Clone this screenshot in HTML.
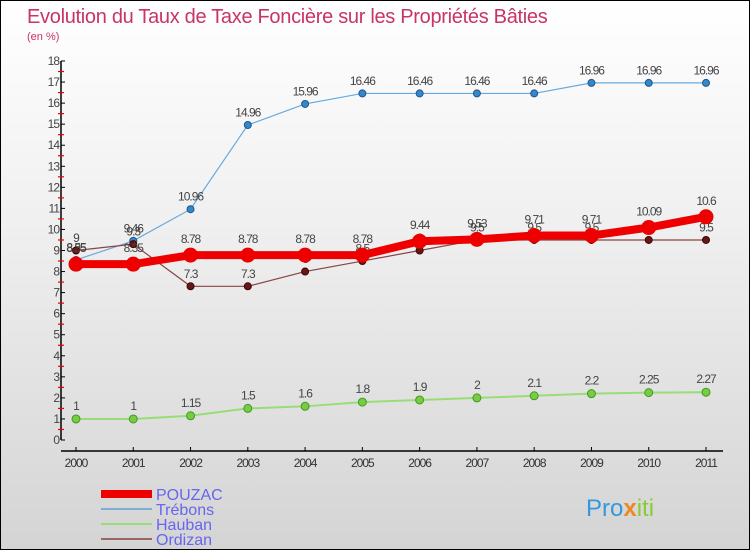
<!DOCTYPE html>
<html><head><meta charset="utf-8">
<style>
body{margin:0;}
#wrap{position:relative;width:748px;height:548px;border:1px solid #000;background:linear-gradient(#ffffff 0%,#f0f0f0 40%,#d4d4d4 100%);overflow:hidden;font-family:"Liberation Sans",sans-serif;}
svg text{font-family:"Liberation Sans",sans-serif;}
</style></head><body>
<div id="wrap">
<svg id="chart" width="748" height="548" xmlns="http://www.w3.org/2000/svg">
<text x="26" y="22" font-size="20" fill="#c8336a" letter-spacing="-0.3">Evolution du Taux de Taxe Foncière sur les Propriétés Bâties</text>
<text x="26" y="39" font-size="11" fill="#c8336a">(en %)</text>
<g id="axes"></g>
<g id="series"></g>
<g id="legend">
<rect x="100" y="489" width="51" height="8" fill="#ee0000"/>
<text x="155" y="499" font-size="16" fill="#6666ee">POUZAC</text>
<rect x="100" y="507" width="51" height="2" fill="#7aaed4"/>
<text x="155" y="514" font-size="16" fill="#6666ee">Trébons</text>
<rect x="100" y="522" width="51" height="2" fill="#99dd77"/>
<text x="155" y="529" font-size="16" fill="#6666ee">Hauban</text>
<rect x="100" y="537" width="51" height="2" fill="#996666"/>
<text x="155" y="544" font-size="16" fill="#6666ee">Ordizan</text>
</g>
<g>
<text x="585" y="515" font-size="24" fill="#3399dd">Pro<tspan fill="#ee8822" font-weight="bold">x</tspan><tspan fill="#88cc33">iti</tspan></text>
</g>
</svg>
</div>
<script>
const years = [2000,2001,2002,2003,2004,2005,2006,2007,2008,2009,2010,2011];
const pouzac = [8.35,8.35,8.78,8.78,8.78,8.78,9.44,9.53,9.71,9.71,10.09,10.6];
const trebons = [8.55,9.46,10.96,14.96,15.96,16.46,16.46,16.46,16.46,16.96,16.96,16.96];
const hauban = [1,1,1.15,1.5,1.6,1.8,1.9,2,2.1,2.2,2.25,2.27];
const ordizan = [9,9.3,7.3,7.3,8,8.5,9,9.5,9.5,9.5,9.5,9.5];
const yTicks = [0,1,2,3,4,5,6,7,8,9,10,11,12,13,14,15,16,17,18];

const NS='http://www.w3.org/2000/svg';
function xS(i){return 75+i*(630/(years.length-1));}
function yS(v){return 439-v*(379/18);}
function mk(tag,attrs,parent){const e=document.createElementNS(NS,tag);for(const k in attrs)e.setAttribute(k,attrs[k]);parent.appendChild(e);return e;}
const axes=document.getElementById('axes');
const ser=document.getElementById('series');
let a=mk('line',{x1:60,y1:yS(18),x2:60,y2:yS(0),stroke:'#000','stroke-width':1.5},axes);


yTicks.forEach(t=>{
  const y=yS(t);
  let l=mk('line',{x1:60,y1:y,x2:64,y2:y,stroke:'#000'},axes);
  
  
  let tx=mk('text',{x:58,y:y+4,'font-size':12,fill:'#444','text-anchor':'end','letter-spacing':'-1'},axes);
  tx.textContent=t;
  
  
  if(t<18){let m=mk('line',{x1:57,y1:yS(t+0.5),x2:63,y2:yS(t+0.5),stroke:'#e00','stroke-width':1.2},axes);
  
  }
});
let xa=mk('line',{x1:60,y1:450,x2:722,y2:450,stroke:'#000','stroke-width':1.5},axes);


years.forEach((yr,i)=>{
  let l=mk('line',{x1:xS(i),y1:446,x2:xS(i),y2:450,stroke:'#000'},axes);
  
  
  let tx=mk('text',{x:xS(i),y:466,'font-size':12,fill:'#333','text-anchor':'middle','letter-spacing':'-1'},axes);
  tx.textContent=yr;
  
  
});
function draw(vals,name,color,width,r,fill,stroke){
  const g=mk('g',{},ser);
  
  
  const p=mk('polyline',{points:vals.map((v,i)=>xS(i)+','+yS(v)).join(' '),fill:'none',stroke:color,'stroke-width':width},g);
  
  
  vals.forEach((v,i)=>{
    const c=mk('circle',{cx:xS(i),cy:yS(v),r:r,fill:fill,stroke:stroke,'stroke-width':1},g);
    
    
    const t=mk('text',{x:xS(i),y:yS(v)-(r+5),'font-size':12,fill:'#444','text-anchor':'middle','letter-spacing':'-1'},g);
    t.textContent=v;
    
    
  });
}
draw(hauban,'hauban','#99dd77',2,4,'#77cc44','#449922');
draw(trebons,'trebons','#66aadd',1.2,3.5,'#3388cc','#225588');
draw(ordizan,'ordizan','#884444',1.2,3.5,'#661818','#440000');
draw(pouzac,'pouzac','#ee0000',8,7,'#ee0000','#ee0000');
</script>
</body></html>
